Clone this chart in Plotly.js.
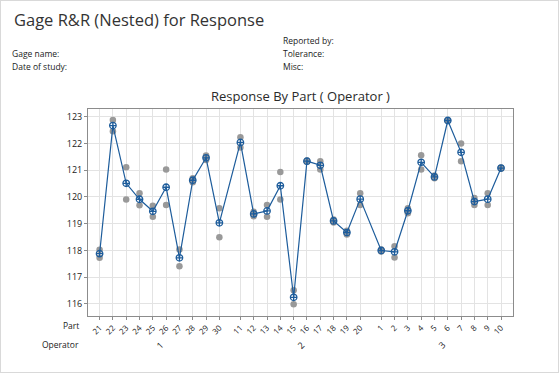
<!DOCTYPE html>
<html>
<head>
<meta charset="utf-8">
<script src="https://cdn.plot.ly/plotly-3.0.1.min.js"></script>
<style>
html,body{margin:0;padding:0;background:#fff;}
#wrap{position:relative;width:559px;height:373px;box-sizing:border-box;border:1px solid #d9d9d9;overflow:hidden;}
#chart{position:absolute;left:-1px;top:-1px;width:559px;height:373px;}
</style>
</head>
<body>
<div id="wrap"><div id="chart"></div></div>
<script>
// Data
const operators = ["1","2","3"];
const parts = [
  ["21","22","23","24","25","26","27","28","29","30"],
  ["11","12","13","14","15","16","17","18","19","20"],
  ["1","2","3","4","5","6","7","8","9","10"]
];
const trial1 = [
  [117.73,122.88,121.11,120.14,119.67,121.03,118.04,120.70,121.55,119.58],
  [122.23,119.45,119.70,120.93,116.51,121.36,121.34,119.16,118.74,120.14],
  [118.04,118.16,119.58,121.56,120.80,122.87,122.00,119.96,120.14,121.10]
];
const trial2 = [
  [118.03,122.46,119.91,119.69,119.26,119.70,117.41,120.55,121.38,118.49],
  [121.85,119.28,119.26,119.91,115.99,121.32,121.03,119.05,118.60,119.70],
  [117.96,117.74,119.39,121.03,120.70,122.85,121.34,119.70,119.70,121.06]
];

const GAP = 0.58; // extra spacing between operator groups
const xs = [], labels = [], g1 = [], g2 = [], means = [];
parts.forEach((grp, gi) => {
  grp.forEach((p, pi) => {
    xs.push(gi * (10 + GAP) + pi);
    labels.push(p);
    g1.push(trial1[gi][pi]);
    g2.push(trial2[gi][pi]);
    means.push((trial1[gi][pi] + trial2[gi][pi]) / 2);
  });
});

const gray = '#999999';
const blue = '#1d5c9b';
const traces = [
  {x: xs.concat(xs), y: g1.concat(g2), type: 'scatter', mode: 'markers',
   marker: {color: gray, size: 6.5}, hoverinfo: 'skip', showlegend: false},
  {x: xs, y: means, type: 'scatter', mode: 'lines+markers',
   line: {color: blue, width: 1.2},
   marker: {symbol: 'circle-cross-open', color: blue, size: 6.5, line: {width: 1.3}},
   showlegend: false}
];

const txt = {family: 'Open Sans, Noto Sans, sans-serif', color: '#333333'};
const W = 559, H = 373;
const L = 88, R = 46, T = 109, B = 57;
const PW = W - L - R, PH = H - T - B;
const annotations = [];
operators.forEach((op, gi) => {
  annotations.push({x: gi * (10 + GAP) + 4.5, xref: 'x', y: 1 - (345 - T) / PH, yref: 'paper',
    text: op, showarrow: false, textangle: -45, font: Object.assign({}, txt, {size: 9, color: '#222'}),
    xanchor: 'center', yanchor: 'middle'});
});
const headers = [
  ['Gage R&R (Nested) for Response', 12, 20, 16.5, 'left', '#333333'],
  ['Gage name:', 10, 53, 8.5, 'left', '#222222'],
  ['Date of study:', 10, 66, 8.5, 'left', '#222222'],
  ['Reported by:', 281, 41, 8.5, 'left', '#222222'],
  ['Tolerance:', 281, 54, 8.5, 'left', '#222222'],
  ['Misc:', 281, 66, 8.5, 'left', '#222222'],
  ['Part', 81, 325, 8.5, 'right', '#222222'],
  ['Operator', 81, 344, 8.5, 'right', '#222222']
];
headers.forEach(([t, px, py, fs, anchor, col]) => {
  annotations.push({x: (px - L) / PW, y: 1 - (py - T) / PH, xref: 'paper', yref: 'paper',
    text: t, showarrow: false, xanchor: anchor, yanchor: 'middle',
    font: Object.assign({}, txt, {size: fs, color: col})});
});

const layout = {
  width: W, height: H,
  margin: {l: L, r: R, t: T, b: B},
  paper_bgcolor: 'rgba(0,0,0,0)', plot_bgcolor: '#ffffff',
  title: {text: 'Response By Part ( Operator )', x: 0.5, xref: 'paper', y: 1 - 96 / H, yanchor: 'middle',
    font: Object.assign({}, txt, {size: 13, color: '#2a2a2a'})},
  xaxis: {range: [-0.87, 2 * (10 + GAP) + 9 + 0.9], tickvals: xs, ticktext: labels,
    tickangle: -45, showgrid: true, gridcolor: '#e3e3e3', gridwidth: 1,
    zeroline: false, showline: true, linecolor: '#8c8c8c', mirror: true,
    ticks: 'outside', ticklen: 3, tickcolor: '#8c8c8c',
    tickfont: Object.assign({}, txt, {size: 8, color: '#222'})},
  yaxis: {range: [115.55, 123.29], tickvals: [116,117,118,119,120,121,122,123],
    showgrid: true, gridcolor: '#e3e3e3', zeroline: false, showline: true,
    linecolor: '#8c8c8c', mirror: true, ticks: 'outside', ticklen: 3, tickcolor: '#8c8c8c',
    tickfont: Object.assign({}, txt, {size: 9, color: '#222'})},
  annotations: annotations
};

Plotly.newPlot('chart', traces, layout, {displayModeBar: false, staticPlot: true});
</script>
</body>
</html>
